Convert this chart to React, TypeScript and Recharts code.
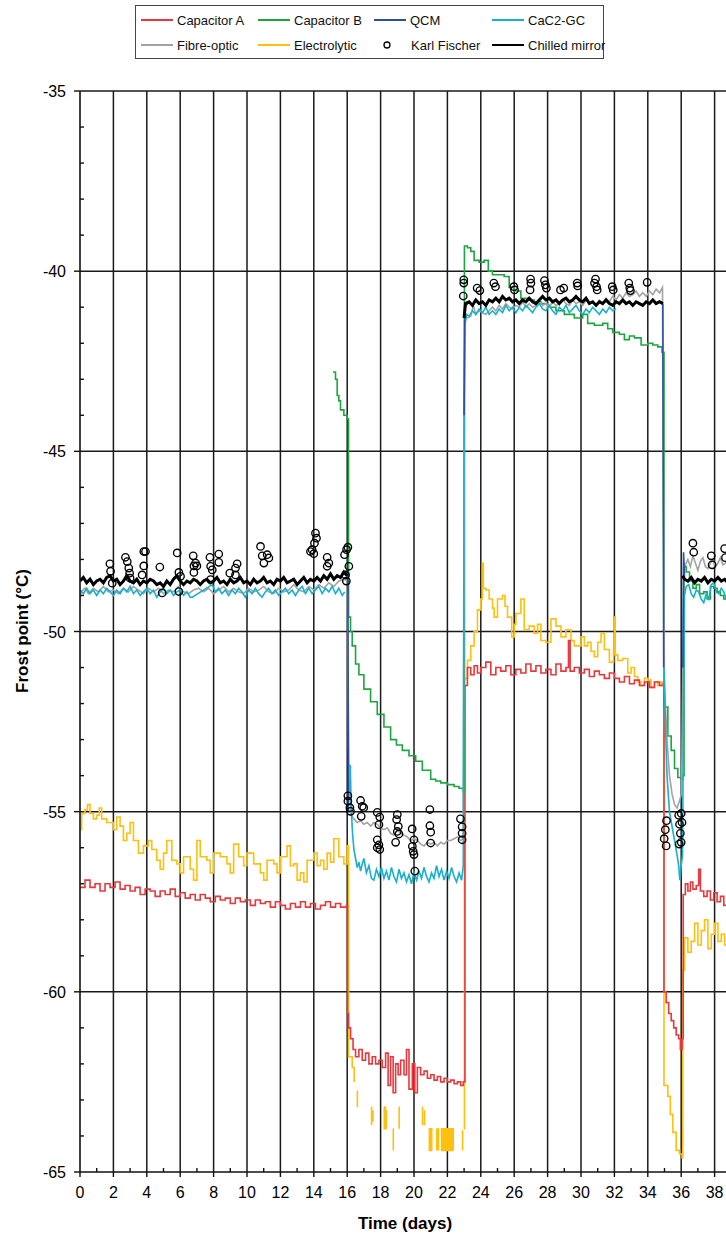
import React from 'react';
import { ComposedChart, Line, Scatter, XAxis, YAxis, CartesianGrid, Label } from 'recharts';

type P = [number, number | null];

const FONT = '"Liberation Sans", Arial, sans-serif';

const xTicks = [0, 1, 2, 3, 4, 5, 6, 7, 8, 9, 10, 11, 12, 13, 14, 15, 16, 17, 18, 19, 20, 21, 22, 23, 24, 25, 26, 27, 28, 29, 30, 31, 32, 33, 34, 35, 36, 37, 38, 39, 40];
const xLabels = [0, 2, 4, 6, 8, 10, 12, 14, 16, 18, 20, 22, 24, 26, 28, 30, 32, 34, 36, 38];
const yTicks = [-65, -64, -63, -62, -61, -60, -59, -58, -57, -56, -55, -54, -53, -52, -51, -50, -49, -48, -47, -46, -45, -44, -43, -42, -41, -40, -39, -38, -37, -36, -35];
const gridX = [2, 4, 6, 8, 10, 12, 14, 16, 18, 20, 22, 24, 26, 28, 30, 32, 34, 36, 38, 40];
const gridY = [-35, -40, -45, -50, -55, -60];

// Capacitor A
const capacitorA: P[] = [
  [0, -57.1], [0.3, -56.9], [0.6, -57.1], [0.9, -57.0], [1.2, -57.2], [1.5, -57.0], [1.8, -57.1], [2.1, -56.95], [2.4, -57.15], [2.7, -57.05],
  [3.0, -57.2], [3.3, -57.1], [3.6, -57.3], [3.9, -57.15], [4.2, -57.2], [4.5, -57.35], [4.8, -57.2], [5.1, -57.3], [5.4, -57.15], [5.7, -57.35],
  [6.0, -57.25], [6.3, -57.4], [6.6, -57.3], [6.9, -57.45], [7.2, -57.3], [7.5, -57.4], [7.8, -57.5], [8.1, -57.35], [8.4, -57.45], [8.7, -57.4],
  [9.0, -57.55], [9.3, -57.4], [9.6, -57.5], [9.9, -57.45], [10.2, -57.6], [10.5, -57.45], [10.8, -57.55], [11.1, -57.5], [11.4, -57.65], [11.7, -57.5],
  [12.0, -57.6], [12.3, -57.7], [12.6, -57.55], [12.9, -57.65], [13.2, -57.5], [13.5, -57.65], [13.8, -57.55], [14.1, -57.7], [14.4, -57.6], [14.7, -57.5],
  [15.0, -57.65], [15.3, -57.55], [15.6, -57.65], [15.95, -57.6],
  [16.02, -60.6], [16.08, -61.0], [16.2, -61.3], [16.35, -61.6], [16.5, -61.8], [16.7, -61.6], [16.9, -61.9], [17.1, -61.7], [17.3, -62.0], [17.5, -61.8],
  [17.7, -62.0], [17.9, -61.9], [18.1, -62.1], [18.3, -61.7], [18.45, -62.6], [18.6, -61.8], [18.75, -62.8], [18.9, -62.0], [19.05, -62.3], [19.2, -61.9],
  [19.4, -62.3], [19.55, -61.6], [19.7, -62.7], [19.9, -62.0], [20.05, -62.8], [20.2, -62.1], [20.4, -62.3], [20.6, -62.2], [20.8, -62.4], [21.0, -62.3],
  [21.2, -62.45], [21.4, -62.35], [21.6, -62.5], [21.8, -62.4], [22.0, -62.5], [22.2, -62.45], [22.4, -62.55], [22.6, -62.5], [22.8, -62.6], [22.95, -62.5],
  [23.05, -51.5], [23.2, -51.0], [23.4, -51.2], [23.6, -50.95], [23.8, -51.15], [24.0, -51.0], [24.3, -50.85], [24.6, -51.2], [24.9, -51.0], [25.2, -51.1],
  [25.5, -50.95], [25.8, -51.2], [26.1, -51.05], [26.4, -51.15], [26.7, -50.9], [27.0, -51.1], [27.3, -50.95], [27.6, -51.15], [27.9, -51.05], [28.2, -51.2],
  [28.5, -50.9], [28.8, -51.1], [29.1, -51.0], [29.25, -50.25], [29.35, -51.1], [29.6, -51.0], [29.9, -51.15], [30.2, -51.05], [30.5, -51.25], [30.8, -51.1],
  [31.1, -51.2], [31.4, -51.3], [31.7, -51.15], [32.0, -51.3], [32.3, -51.4], [32.6, -51.25], [32.9, -51.45], [33.2, -51.35], [33.5, -51.5], [33.8, -51.4],
  [34.1, -51.55], [34.4, -51.4], [34.7, -51.5], [34.92, -51.45],
  [34.97, -60.0], [35.1, -60.3], [35.25, -60.6], [35.4, -60.8], [35.55, -61.0], [35.7, -61.2], [35.85, -61.3], [35.95, -61.6], [36.05, -61.3],
  [36.12, -57.3], [36.25, -57.0], [36.4, -57.2], [36.55, -56.95], [36.7, -57.15], [36.9, -57.05], [37.05, -56.6], [37.15, -57.2], [37.35, -57.35], [37.55, -57.2],
  [37.75, -57.45], [37.95, -57.25], [38.15, -57.5], [38.35, -57.35], [38.55, -57.6], [38.75, -57.45], [39.0, -57.55],
];

// Capacitor B
const capacitorB: P[] = [
  [15.15, -42.8], [15.3, -43.0], [15.4, -43.45], [15.5, -43.6], [15.6, -43.85], [15.8, -44.0], [16.0, -44.1],
  [16.08, -49.6], [16.2, -50.0], [16.3, -50.4], [16.5, -50.9], [16.7, -51.2], [17.0, -51.6], [17.4, -51.95], [17.8, -52.3], [18.2, -52.65], [18.6, -53.0],
  [18.95, -53.15], [19.3, -53.3], [19.7, -53.45], [20.1, -53.6], [20.5, -53.85], [21.0, -54.1], [21.3, -54.15], [21.6, -54.2], [22.0, -54.25], [22.4, -54.3],
  [22.7, -54.35], [22.95, -54.45],
  [23.02, -39.3], [23.2, -39.35], [23.4, -39.45], [23.6, -39.7], [23.9, -39.75], [24.2, -39.7], [24.45, -40.0], [24.7, -40.1], [25.0, -40.1], [25.4, -40.15],
  [25.7, -40.45], [26.0, -40.55], [26.4, -40.75], [26.8, -40.8], [27.2, -40.85], [27.6, -40.9], [28.0, -41.0], [28.5, -41.1], [29.0, -41.2], [29.6, -41.3],
  [30.1, -41.2], [30.4, -41.45], [30.8, -41.5], [31.3, -41.45], [31.6, -41.6], [31.9, -41.7], [32.3, -41.75], [32.6, -41.9], [32.9, -41.8], [33.2, -41.85],
  [33.6, -42.05], [34.0, -42.0], [34.3, -42.05], [34.6, -42.1], [34.85, -42.25],
  [34.97, -52.1], [35.2, -52.9], [35.4, -53.3], [35.6, -53.8], [35.8, -54.05], [36.0, -54.1], [36.1, -54.0],
  [36.17, -48.2], [36.3, -48.35], [36.5, -48.6], [36.7, -48.8], [36.9, -48.7], [37.1, -48.95], [37.35, -48.9], [37.55, -49.1], [37.75, -48.75], [37.95, -48.8],
  [38.15, -48.9], [38.35, -49.0], [38.55, -49.1], [38.75, -49.3], [39.0, -49.1],
];

// QCM (mostly hidden beneath the chilled mirror trace)
const qcm: P[] = [
  [15.9, -48.45], [16.04, -48.3], [16.08, -55.0], [16.1, null],
  [23.0, -44.0], [23.04, -41.0], [23.2, -40.9], [23.25, null],
  [34.9, -40.9], [34.95, -51.0], [34.97, null],
  [36.1, -51.0], [36.14, -47.8], [36.2, -48.5], [36.22, null],
];

// CaC2-GC
const cac2gc: P[] = [
  [0, -48.85], [0.2, -48.95], [0.4, -48.8], [0.6, -48.95], [0.8, -48.85], [1.0, -49.0], [1.2, -48.85], [1.4, -48.95], [1.6, -48.8], [1.8, -48.9],
  [2.0, -49.0], [2.2, -48.85], [2.4, -48.95], [2.6, -48.8], [2.8, -48.9], [3.0, -48.75], [3.2, -48.95], [3.4, -48.85], [3.6, -49.0], [3.8, -48.9],
  [4.0, -48.8], [4.2, -48.95], [4.4, -48.85], [4.6, -49.05], [4.8, -48.9], [5.0, -48.8], [5.2, -48.95], [5.4, -48.85], [5.6, -49.0], [5.8, -48.9],
  [6.0, -48.85], [6.2, -49.0], [6.4, -48.9], [6.6, -49.05], [6.72, -49.05], [7.92, -48.7], [8.1, -48.9], [8.3, -48.8], [8.5, -48.95], [8.7, -48.85],
  [8.9, -49.0], [9.1, -48.85], [9.3, -48.95], [9.5, -48.8], [9.7, -48.9], [9.9, -49.05], [10.1, -48.85], [10.3, -48.95], [10.5, -48.8], [10.7, -48.95],
  [10.9, -49.05], [11.1, -48.9], [11.3, -48.8], [11.5, -48.95], [11.7, -48.85], [11.9, -49.0], [12.1, -48.9], [12.3, -48.8], [12.5, -48.95], [12.7, -48.85],
  [12.9, -49.0], [13.1, -48.85], [13.3, -48.75], [13.5, -48.95], [13.7, -48.8], [13.9, -48.95], [14.1, -48.85], [14.3, -48.75], [14.5, -48.95], [14.7, -48.8],
  [14.9, -48.9], [15.1, -48.75], [15.3, -48.95], [15.5, -48.8], [15.7, -49.0], [15.85, -48.9], [15.9, null],
  [16.18, -53.7], [16.25, -55.0], [16.32, -55.6], [16.4, -56.05], [16.5, -56.3], [16.6, -56.55], [16.7, -56.4], [16.8, -56.65], [16.9, -56.45], [17.0, -56.3],
  [17.15, -56.7], [17.3, -56.5], [17.45, -56.85], [17.6, -56.9], [17.75, -56.6], [17.9, -56.8], [18.05, -56.55], [18.2, -56.85], [18.35, -56.65], [18.5, -56.9],
  [18.65, -56.55], [18.8, -56.8], [18.95, -56.95], [19.1, -56.6], [19.25, -56.85], [19.4, -56.7], [19.55, -56.95], [19.7, -56.75], [19.85, -57.0], [20.0, -56.7],
  [20.15, -56.9], [20.3, -56.65], [20.45, -56.85], [20.6, -56.55], [20.75, -56.8], [20.9, -56.95], [21.05, -56.7], [21.2, -56.85], [21.35, -56.5], [21.5, -56.8],
  [21.65, -56.6], [21.8, -56.9], [21.95, -56.65], [22.1, -56.85], [22.25, -56.55], [22.4, -56.8], [22.55, -56.95], [22.7, -56.7], [22.85, -56.9], [22.95, -56.5],
  [23.0, -43.7], [23.05, -41.5], [23.15, -41.2], [23.3, -41.25], [23.5, -41.1], [23.7, -41.2], [23.9, -41.05], [24.1, -41.15], [24.3, -41.0], [24.5, -41.2],
  [24.7, -41.1], [24.9, -41.2], [25.1, -41.05], [25.3, -41.15], [25.5, -40.95], [25.7, -41.1], [25.9, -41.0], [26.1, -41.15], [26.3, -41.0], [26.5, -41.1],
  [26.7, -40.95], [26.9, -41.05], [27.1, -41.15], [27.3, -41.0], [27.5, -40.9], [27.7, -41.05], [27.9, -41.1], [28.1, -40.95], [28.3, -41.1], [28.5, -41.2],
  [28.7, -41.0], [28.9, -41.1], [29.1, -40.95], [29.3, -41.15], [29.5, -41.05], [29.7, -40.95], [29.9, -41.1], [30.1, -41.2], [30.3, -41.05], [30.5, -41.15],
  [30.7, -41.0], [30.9, -41.1], [31.1, -41.2], [31.3, -41.05], [31.5, -41.15], [31.7, -41.0], [31.9, -41.1], [32.1, -41.05], [32.15, null],
  [34.97, -51.0], [35.05, -52.5], [35.15, -54.0], [35.3, -55.0], [35.45, -55.4], [35.6, -55.8], [35.75, -56.2], [35.85, -56.5], [35.92, -56.9], [36.0, -56.5],
  [36.08, -56.2], [36.15, -51.0], [36.2, -49.0],
  [36.3, -48.75], [36.45, -48.7], [36.6, -48.95], [36.75, -49.05], [36.9, -48.85], [37.05, -48.9], [37.2, -49.1], [37.35, -49.2], [37.5, -48.95], [37.65, -49.1],
  [37.8, -48.7], [37.95, -48.65], [38.1, -48.9], [38.25, -48.95], [38.4, -48.8], [38.55, -48.9], [38.7, -49.1], [38.9, -48.95], [39.1, -49.0],
];

// Fibre-optic
const fibreOptic: P[] = [
  [0, -49.2], [0.05, -48.9], [0.3, -48.8], [0.5, -48.95], [0.8, -48.8], [1.1, -48.9], [1.4, -48.75], [1.7, -48.9], [2.0, -48.85], [2.3, -48.95],
  [2.6, -48.8], [2.9, -48.9], [3.2, -48.75], [3.5, -48.85], [3.8, -48.95], [4.1, -48.8], [4.4, -48.9], [4.7, -48.8], [5.0, -48.95], [5.3, -48.85],
  [5.6, -48.9], [5.9, -48.75], [6.2, -48.9], [6.5, -48.95], [6.8, -48.85], [7.1, -48.8], [7.4, -48.9], [7.7, -48.8], [8.0, -48.95], [8.3, -48.85],
  [8.6, -48.75], [8.9, -48.9], [9.2, -48.8], [9.5, -48.9], [9.8, -48.95], [10.1, -48.8], [10.4, -48.9], [10.7, -48.85], [11.0, -48.75], [11.3, -48.9],
  [11.6, -48.95], [11.9, -48.8], [12.2, -48.9], [12.5, -48.85], [12.8, -48.7], [13.1, -48.85], [13.4, -48.9], [13.7, -48.75], [14.0, -48.85], [14.3, -48.7],
  [14.6, -48.8], [14.9, -48.65], [15.2, -48.75], [15.5, -48.6], [15.8, -48.55], [16.0, -48.6],
  [16.1, -54.0], [16.25, -55.1], [16.4, -55.2], [16.6, -55.3], [16.8, -55.25], [17.0, -55.35], [17.2, -55.3], [17.4, -55.4], [17.6, -55.3], [17.8, -55.35],
  [18.0, -55.45], [18.2, -55.5], [18.4, -55.45], [18.6, -55.6], [18.8, -55.65], [19.0, -55.5], [19.2, -55.6], [19.4, -55.65], [19.6, -55.7], [19.8, -55.8],
  [20.0, -55.75], [20.2, -55.8], [20.4, -55.9], [20.6, -55.95], [20.8, -55.85], [21.0, -55.9], [21.2, -55.85], [21.4, -55.95], [21.6, -55.85], [21.8, -55.9],
  [22.0, -55.8], [22.2, -55.8], [22.4, -55.75], [22.6, -55.7], [22.8, -55.8], [22.95, -55.75],
  [23.03, -41.3], [23.2, -41.3], [23.4, -41.25], [23.55, -40.95], [23.7, -41.2], [23.9, -41.1], [24.1, -41.15], [24.3, -41.2], [24.5, -41.1], [24.7, -41.0],
  [24.9, -41.1], [25.1, -40.95], [25.3, -41.05], [25.5, -40.9], [25.7, -41.0], [25.9, -41.05], [26.1, -40.95], [26.3, -41.0], [26.5, -40.85], [26.7, -41.0],
  [26.9, -40.9], [27.1, -41.0], [27.3, -40.95], [27.5, -40.85], [27.7, -40.95], [27.9, -40.9], [28.1, -41.0], [28.3, -40.85], [28.5, -40.95], [28.7, -40.9],
  [28.9, -40.8], [29.1, -40.9], [29.3, -40.95], [29.5, -40.8], [29.7, -40.9], [29.9, -40.85], [30.1, -40.95], [30.3, -40.8], [30.5, -40.9], [30.7, -40.85],
  [30.9, -40.95], [31.1, -40.8], [31.3, -40.9], [31.5, -40.75], [31.7, -40.85], [31.9, -40.7], [32.1, -40.8], [32.3, -40.65], [32.5, -40.75], [32.7, -40.6],
  [32.9, -40.7], [33.1, -40.65], [33.3, -40.55], [33.5, -40.7], [33.7, -40.6], [33.9, -40.7], [34.1, -40.55], [34.3, -40.65], [34.5, -40.5], [34.7, -40.6],
  [34.88, -40.45],
  [34.96, -49.0], [35.0, -51.5], [35.15, -53.0], [35.3, -54.0], [35.45, -54.5], [35.6, -54.8], [35.75, -54.9], [35.9, -54.7], [36.02, -54.5], [36.1, -51.0],
  [36.15, -48.1], [36.25, -48.15], [36.4, -48.0], [36.55, -48.2], [36.7, -47.9], [36.85, -48.1], [37.0, -48.3], [37.15, -48.05], [37.3, -47.95], [37.45, -48.2],
  [37.6, -48.25], [37.75, -48.1], [37.9, -48.0], [38.05, -48.2], [38.2, -48.1], [38.35, -47.95], [38.5, -48.15], [38.65, -48.1], [38.8, -48.0], [39.0, -48.15],
];

// Electrolytic (gaps where the trace drops off the bottom)
const electrolytic: P[] = [
  [0, -55.5], [0.1, -55.05], [0.3, -54.95], [0.45, -54.8], [0.6, -55.05], [0.8, -55.2], [1.0, -55.1], [1.15, -54.9], [1.3, -55.2], [1.6, -55.3],
  [2.0, -55.5], [2.2, -55.15], [2.4, -55.4], [2.6, -55.8], [2.8, -55.6], [3.0, -55.3], [3.2, -55.8], [3.5, -56.15], [3.8, -55.95], [4.1, -55.8],
  [4.3, -56.05], [4.6, -56.35], [4.8, -56.6], [5.0, -56.15], [5.2, -55.8], [5.5, -56.35], [5.8, -56.45], [6.0, -56.7], [6.2, -56.25], [6.6, -56.6],
  [6.8, -56.9], [7.0, -55.8], [7.2, -56.25], [7.6, -56.35], [7.8, -56.7], [8.0, -56.15], [8.4, -56.25], [8.8, -56.45], [9.0, -56.7], [9.2, -55.9],
  [9.5, -56.25], [9.8, -56.5], [10.0, -56.15], [10.4, -56.45], [10.8, -56.7], [11.0, -56.9], [11.2, -56.35], [11.6, -56.45], [11.8, -56.7], [12.0, -56.25],
  [12.4, -55.95], [12.6, -56.5], [12.8, -56.45], [13.0, -56.9], [13.2, -56.7], [13.4, -56.95], [13.6, -56.35], [14.0, -56.15], [14.2, -56.5], [14.4, -56.35],
  [14.6, -56.6], [14.8, -56.15], [15.0, -56.4], [15.2, -55.75], [15.5, -56.25], [15.8, -56.45], [16.0, -55.95],
  [16.08, -61.8], [16.3, -62.1], [16.42, -62.5], [16.44, null],
  [16.6, -62.75], [16.61, -63.2], [16.62, null],
  [17.45, -63.2], [17.46, -63.7], [17.47, null],
  [17.53, -63.3], [17.54, -63.6], [17.55, null],
  [18.2, -63.2], [18.22, -63.8], [18.27, -63.2], [18.29, -63.8], [18.34, -63.3], [18.35, -63.7], [18.36, null],
  [18.75, -63.8], [18.76, -64.4], [18.77, null],
  [19.1, -63.2], [19.11, -63.8], [19.12, null],
  [20.5, -63.2], [20.51, -63.7], [20.52, null],
  [20.62, -63.3], [20.63, -63.7], [20.64, null],
  [20.9, -63.8], [20.92, -64.4], [20.97, -63.8], [20.99, -64.4], [21.04, -63.8], [21.06, -64.4], [21.07, null],
  [21.35, -63.8], [21.36, -64.4], [21.37, null],
  [21.45, -63.8], [21.46, -64.4], [21.47, null],
  [21.6, -63.8], [21.65, -64.4], [21.7, -63.8], [21.75, -64.4], [21.8, -63.8], [21.85, -64.4], [21.9, -63.8], [21.95, -64.4], [22.0, -63.8], [22.05, -64.4],
  [22.1, -63.8], [22.15, -64.4], [22.2, -63.8], [22.25, -64.4], [22.3, -63.8], [22.35, -64.4], [22.36, null],
  [22.9, -63.85], [22.91, -64.4], [22.92, null],
  [23.0, -63.8], [23.02, -51.3], [23.2, -50.8], [23.4, -50.4], [23.6, -50.0], [23.8, -49.4], [24.0, -49.1], [24.1, -48.1], [24.15, -48.8], [24.3, -48.85],
  [24.5, -49.1], [24.7, -49.35], [24.8, -49.6], [25.0, -49.1], [25.3, -49.0], [25.45, -49.3], [25.6, -49.6], [25.85, -50.15], [26.0, -49.8], [26.1, -49.5],
  [26.4, -49.1], [26.6, -49.95], [26.9, -49.85], [27.2, -50.05], [27.4, -49.8], [27.6, -50.25], [27.9, -50.3], [28.2, -49.65], [28.5, -49.85], [28.8, -50.15],
  [29.1, -49.95], [29.4, -50.25], [29.6, -50.4], [30.0, -50.15], [30.2, -50.4], [30.4, -50.3], [30.6, -50.55], [30.8, -50.7], [31.0, -50.3], [31.2, -50.05],
  [31.4, -50.5], [31.7, -50.85], [31.95, -50.6], [32.0, -49.6], [32.05, -50.65], [32.2, -50.8], [32.5, -50.75], [32.8, -51.15], [33.0, -51.0], [33.2, -51.25],
  [33.4, -51.4], [33.6, -51.5], [33.8, -51.3], [34.0, -51.35], [34.2, -51.55], [34.4, -51.4], [34.6, -51.5], [34.8, -51.4], [34.93, -51.5],
  [34.97, -62.6], [35.2, -62.9], [35.35, -63.4], [35.5, -63.9], [35.7, -64.4], [35.9, -64.5], [36.05, -64.6], [36.1, -59.4],
  [36.2, -58.5], [36.4, -58.9], [36.6, -58.6], [36.8, -58.1], [37.0, -58.7], [37.2, -58.3], [37.4, -58.0], [37.6, -58.8], [37.8, -58.4], [38.0, -58.1],
  [38.2, -58.6], [38.4, -58.4], [38.6, -58.7], [38.8, -58.3], [39.0, -58.5],
];

// Chilled mirror (reference hygrometer)
const chilledMirror: P[] = [
  [0, -48.6], [0.2, -48.5], [0.4, -48.65], [0.6, -48.55], [0.8, -48.7], [1.0, -48.6], [1.2, -48.55], [1.4, -48.65], [1.6, -48.5], [1.8, -48.45],
  [2.0, -48.6], [2.2, -48.55], [2.4, -48.7], [2.6, -48.6], [2.8, -48.45], [3.0, -48.6], [3.2, -48.65], [3.4, -48.55], [3.6, -48.7], [3.8, -48.6],
  [4.0, -48.65], [4.2, -48.55], [4.4, -48.6], [4.6, -48.7], [4.8, -48.65], [5.0, -48.75], [5.2, -48.6], [5.4, -48.7], [5.6, -48.55], [5.8, -48.45],
  [6.0, -48.6], [6.2, -48.7], [6.4, -48.6], [6.6, -48.65], [6.8, -48.55], [7.0, -48.6], [7.2, -48.7], [7.4, -48.6], [7.6, -48.55], [7.8, -48.65],
  [8.0, -48.6], [8.2, -48.5], [8.4, -48.65], [8.6, -48.6], [8.8, -48.7], [9.0, -48.55], [9.2, -48.65], [9.4, -48.6], [9.6, -48.5], [9.8, -48.65],
  [10.0, -48.6], [10.2, -48.7], [10.4, -48.55], [10.6, -48.65], [10.8, -48.6], [11.0, -48.5], [11.2, -48.65], [11.4, -48.6], [11.6, -48.7], [11.8, -48.55],
  [12.0, -48.6], [12.2, -48.5], [12.4, -48.65], [12.6, -48.6], [12.8, -48.55], [13.0, -48.7], [13.2, -48.6], [13.4, -48.5], [13.6, -48.65], [13.8, -48.55],
  [14.0, -48.6], [14.2, -48.5], [14.4, -48.6], [14.6, -48.45], [14.8, -48.55], [15.0, -48.4], [15.2, -48.55], [15.4, -48.45], [15.6, -48.5], [15.8, -48.35],
  [16.0, -48.45], [16.02, null],
  [23.0, -41.3], [23.08, -40.9], [23.3, -40.85], [23.5, -40.95], [23.7, -40.8], [23.9, -40.9], [24.1, -40.85], [24.3, -40.95], [24.5, -40.8], [24.7, -40.85],
  [24.9, -40.75], [25.1, -40.85], [25.3, -40.7], [25.5, -40.8], [25.7, -40.75], [25.9, -40.85], [26.1, -40.8], [26.3, -40.9], [26.5, -40.8], [26.7, -40.85],
  [26.9, -40.75], [27.1, -40.85], [27.3, -40.9], [27.5, -40.8], [27.7, -40.7], [27.9, -40.8], [28.1, -40.75], [28.3, -40.85], [28.5, -40.8], [28.7, -40.9],
  [28.9, -40.8], [29.1, -40.75], [29.3, -40.85], [29.5, -40.8], [29.7, -40.7], [29.9, -40.8], [30.1, -40.85], [30.3, -40.75], [30.5, -40.9], [30.7, -40.85],
  [30.9, -40.95], [31.1, -40.85], [31.3, -40.9], [31.5, -40.8], [31.7, -40.9], [31.9, -40.95], [32.1, -40.85], [32.3, -40.9], [32.5, -40.8], [32.7, -40.9],
  [32.9, -40.85], [33.1, -40.95], [33.3, -40.85], [33.5, -40.9], [33.7, -40.95], [33.9, -40.85], [34.1, -40.9], [34.3, -40.8], [34.5, -40.9], [34.7, -40.85],
  [34.9, -40.9], [34.95, null],
  [36.08, -48.45], [36.2, -48.55], [36.4, -48.6], [36.6, -48.5], [36.8, -48.65], [37.0, -48.55], [37.2, -48.6], [37.4, -48.5], [37.6, -48.65], [37.8, -48.55],
  [38.0, -48.6], [38.2, -48.5], [38.4, -48.6], [38.6, -48.55], [38.8, -48.65], [39.0, -48.6],
];

// Karl Fischer samples
const karlFischer: P[] = [
  [1.79, -48.12], [1.83, -48.33], [1.93, -48.66], [2.72, -47.94], [2.83, -48.06], [2.92, -48.24], [2.97, -48.38], [3.0, -48.52],
  [3.82, -47.78], [3.92, -47.78], [3.82, -48.18], [3.72, -48.43], [4.78, -48.21], [4.92, -48.93], [5.82, -47.82], [5.92, -48.36],
  [6.02, -48.47], [5.92, -48.89], [6.78, -47.9], [6.82, -48.18], [6.92, -48.1], [7.0, -48.18], [6.82, -48.36], [7.78, -47.94],
  [7.82, -48.19], [7.92, -48.29], [7.82, -48.56], [8.31, -47.85], [8.31, -48.08], [8.97, -48.38], [9.31, -48.24], [9.41, -48.12],
  [9.31, -48.43], [10.81, -47.64], [10.91, -47.9], [11.01, -48.1], [11.21, -47.87], [11.31, -47.96], [13.9, -47.73], [14.0, -47.84],
  [14.1, -47.27], [14.16, -47.41], [14.04, -47.55], [13.8, -47.78], [14.8, -47.94], [14.9, -48.1], [14.8, -48.19], [15.84, -47.87],
  [15.96, -47.73], [16.04, -47.66], [15.9, -48.43], [16.1, -48.19], [15.95, -48.6],
  [16.04, -54.56], [16.04, -54.71], [16.16, -54.89], [16.2, -54.99], [16.8, -54.69], [16.9, -54.85], [16.84, -55.13], [16.99, -54.89],
  [17.8, -55.02], [17.95, -55.15], [17.9, -55.36], [17.8, -55.78], [17.9, -55.92], [17.8, -56.0], [17.95, -56.05], [19.0, -55.08],
  [18.96, -55.22], [19.06, -55.41], [19.0, -55.55], [19.1, -55.62], [18.9, -55.85], [19.89, -55.48], [20.0, -55.78], [19.9, -55.96],
  [19.95, -56.1], [20.0, -56.19], [20.05, -56.65], [20.95, -54.94], [20.95, -55.39], [21.0, -55.57], [21.0, -55.87], [22.78, -55.2],
  [22.88, -55.42], [22.88, -55.6], [22.88, -55.78],
  [22.98, -40.24], [22.98, -40.33], [22.95, -40.69], [23.78, -40.47], [23.94, -40.54], [24.78, -40.33], [24.88, -40.43], [25.98, -40.43],
  [26.02, -40.52], [26.98, -40.22], [27.0, -40.33], [26.95, -40.52], [27.81, -40.26], [27.87, -40.38], [27.93, -40.47], [28.77, -40.52],
  [28.97, -40.47], [29.77, -40.33], [29.8, -40.41], [30.87, -40.22], [30.81, -40.33], [30.93, -40.43], [30.97, -40.52], [31.87, -40.43],
  [31.93, -40.52], [32.86, -40.33], [32.92, -40.47], [32.96, -40.54], [33.96, -40.31],
  [34.98, -55.75], [35.05, -55.5], [35.12, -55.25], [35.1, -55.95], [35.85, -55.1], [35.9, -55.35], [35.95, -55.6], [36.0, -55.85],
  [36.05, -55.3], [36.0, -55.05], [35.88, -55.9],
  [36.7, -47.55], [36.75, -47.8], [37.8, -47.9], [37.85, -48.15], [38.6, -47.7], [38.65, -47.95],
];

const COLORS = {
  capA: '#e8383d',
  capB: '#1ea53f',
  qcm: '#2e4ea6',
  cac2: '#17b1cc',
  fibre: '#a3a3a3',
  electro: '#fdc010',
  chilled: '#000000',
};

const pts = (arr: P[]) => arr.map(([t, v]) => ({ t, v }));

const XTick = (props: any) => {
  const { x, y, payload } = props;
  const v = payload.value;
  const major = v % 2 === 0;
  return (
    <g>
      <line x1={x} x2={x} y1={y} y2={major ? y + 5 : y - 4} stroke="#111" strokeWidth={1.4} />
      {xLabels.includes(v) && (
        <text x={x} y={y + 26} textAnchor="middle" fontSize={16} fill="#000" fontFamily={FONT}>
          {v}
        </text>
      )}
    </g>
  );
};

const YTick = (props: any) => {
  const { x, y, payload } = props;
  const v = payload.value;
  const major = v % 5 === 0;
  return (
    <g>
      <line x1={x} x2={major ? x - 6 : x + 4} y1={y} y2={y} stroke="#111" strokeWidth={1.4} />
      {major && (
        <text x={x - 14} y={y + 6} textAnchor="end" fontSize={16} fill="#000" fontFamily={FONT}>
          {v}
        </text>
      )}
    </g>
  );
};

const KfCircle = (props: any) => {
  const { cx, cy } = props;
  if (cx == null || cy == null) return null;
  return <circle cx={cx} cy={cy} r={3.7} fill="none" stroke="#000" strokeWidth={1.35} />;
};

const legendItems = [
  { name: 'Capacitor A', color: COLORS.capA, kind: 'line', x: 141, row: 0 },
  { name: 'Capacitor B', color: COLORS.capB, kind: 'line', x: 258, row: 0 },
  { name: 'QCM', color: COLORS.qcm, kind: 'line', x: 374, row: 0 },
  { name: 'CaC2-GC', color: COLORS.cac2, kind: 'line', x: 492, row: 0 },
  { name: 'Fibre-optic', color: COLORS.fibre, kind: 'line', x: 141, row: 1 },
  { name: 'Electrolytic', color: COLORS.electro, kind: 'line', x: 258, row: 1 },
  { name: 'Karl Fischer', color: '#000', kind: 'circle', x: 374, row: 1 },
  { name: 'Chilled mirror', color: COLORS.chilled, kind: 'line', x: 492, row: 1 },
];

const ChartLegend = () => (
  <svg width={726} height={64} style={{ position: 'absolute', left: 0, top: 0 }}>
    <rect x={135.5} y={5.5} width={468} height={53} fill="#fff" stroke="#444" strokeWidth={1} />
    {legendItems.map((it) => {
      const cy = it.row === 0 ? 20 : 45;
      return (
        <g key={it.name}>
          {it.kind === 'line' ? (
            <line x1={it.x} x2={it.x + 32} y1={cy} y2={cy} stroke={it.color} strokeWidth={2} />
          ) : (
            <circle cx={it.x + 13} cy={cy} r={3} fill="none" stroke="#000" strokeWidth={1.3} />
          )}
          <text x={it.kind === 'line' ? it.x + 36 : it.x + 37} y={cy + 4.5} fontSize={13} fill="#111" fontFamily={FONT}>
            {it.name}
          </text>
        </g>
      );
    })}
  </svg>
);

export default function App() {
  const lineProps = { dot: false, activeDot: false, isAnimationActive: false, connectNulls: false, dataKey: 'v' } as const;
  return (
    <div style={{ position: 'absolute', left: 0, top: 0, width: 726, height: 1236, overflow: 'hidden', background: '#fff', fontFamily: FONT }}>
      <ComposedChart width={760} height={1236} margin={{ top: 91, right: 12, bottom: 0, left: 0 }}>
        <CartesianGrid horizontalValues={gridY} verticalValues={gridX} stroke="#1a1a1a" strokeWidth={1.5} />
        <XAxis
          type="number"
          dataKey="t"
          domain={[0, 40]}
          ticks={xTicks}
          interval={0}
          allowDataOverflow
          tick={<XTick />}
          tickLine={false}
          tickSize={0}
          tickMargin={0}
          axisLine={{ stroke: '#111', strokeWidth: 1.6 }}
          height={64}
        >
          <Label
            content={() => (
              <text x={405} y={1229} textAnchor="middle" fontSize={17} fontWeight="bold" fill="#000" fontFamily={FONT}>
                Time (days)
              </text>
            )}
          />
        </XAxis>
        <YAxis
          type="number"
          dataKey="v"
          domain={[-65, -35]}
          ticks={yTicks}
          interval={0}
          allowDataOverflow
          tick={<YTick />}
          tickLine={false}
          tickSize={0}
          tickMargin={0}
          axisLine={{ stroke: '#111', strokeWidth: 1.6 }}
          width={80}
        >
          <Label
            content={() => (
              <text transform="translate(28,631) rotate(-90)" textAnchor="middle" fontSize={17} fontWeight="bold" fill="#000" fontFamily={FONT}>
                Frost point (°C)
              </text>
            )}
          />
        </YAxis>
        <Line {...lineProps} name="Electrolytic" data={pts(electrolytic)} type="stepAfter" stroke={COLORS.electro} strokeWidth={1.6} />
        <Line {...lineProps} name="Capacitor A" data={pts(capacitorA)} type="stepAfter" stroke={COLORS.capA} strokeWidth={1.6} />
        <Line {...lineProps} name="Capacitor B" data={pts(capacitorB)} type="stepAfter" stroke={COLORS.capB} strokeWidth={1.6} />
        <Line {...lineProps} name="Fibre-optic" data={pts(fibreOptic)} type="linear" stroke={COLORS.fibre} strokeWidth={1.6} />
        <Line {...lineProps} name="CaC2-GC" data={pts(cac2gc)} type="linear" stroke={COLORS.cac2} strokeWidth={1.6} />
        <Line {...lineProps} name="QCM" data={pts(qcm)} type="linear" stroke={COLORS.qcm} strokeWidth={1.6} />
        <Line {...lineProps} name="Chilled mirror" data={pts(chilledMirror)} type="linear" stroke={COLORS.chilled} strokeWidth={3} />
        <Scatter name="Karl Fischer" data={pts(karlFischer)} dataKey="v" shape={<KfCircle />} isAnimationActive={false} />
      </ComposedChart>
      <ChartLegend />
    </div>
  );
}
